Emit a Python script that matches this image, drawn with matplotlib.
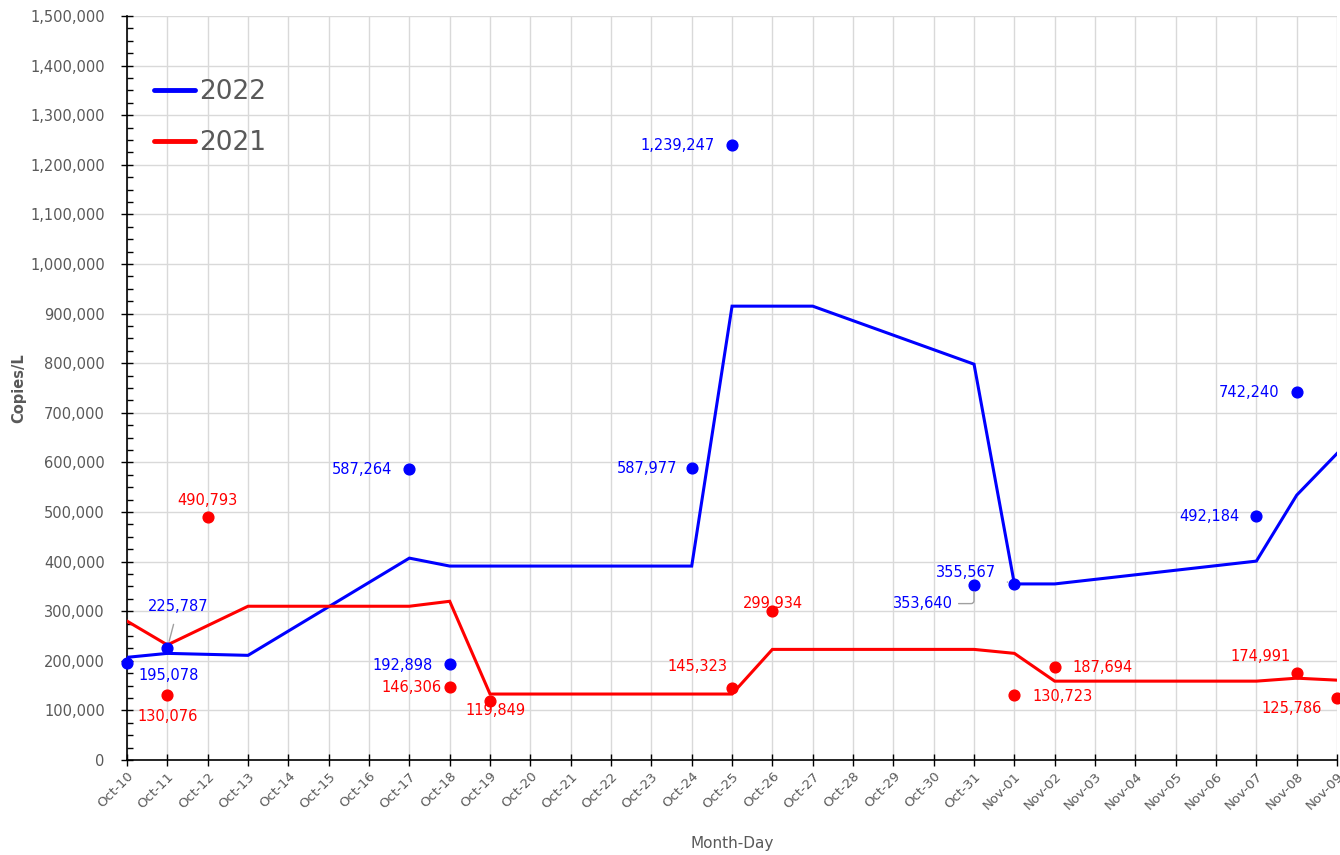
import matplotlib
matplotlib.use("Agg")
import matplotlib.pyplot as plt
from matplotlib.ticker import MultipleLocator, FuncFormatter

# ---------------- data ----------------
days = ["Oct-10", "Oct-11", "Oct-12", "Oct-13", "Oct-14", "Oct-15", "Oct-16", "Oct-17",
        "Oct-18", "Oct-19", "Oct-20", "Oct-21", "Oct-22", "Oct-23", "Oct-24", "Oct-25",
        "Oct-26", "Oct-27", "Oct-28", "Oct-29", "Oct-30", "Oct-31", "Nov-01", "Nov-02",
        "Nov-03", "Nov-04", "Nov-05", "Nov-06", "Nov-07", "Nov-08", "Nov-09"]

# trend lines (vertex days and values)
line22_days = ["Oct-10", "Oct-11", "Oct-13", "Oct-17", "Oct-18", "Oct-24", "Oct-25",
               "Oct-27", "Oct-31", "Nov-01", "Nov-02", "Nov-07", "Nov-08", "Nov-09"]
line22_vals = [207000, 215000, 211000, 407000, 391000, 391000, 915000,
               915000, 798000, 355000, 355000, 401000, 534000, 618000]

line21_days = ["Oct-10", "Oct-11", "Oct-13", "Oct-17", "Oct-18", "Oct-19", "Oct-25",
               "Oct-26", "Oct-31", "Nov-01", "Nov-02", "Nov-07", "Nov-08", "Nov-09"]
line21_vals = [280000, 232000, 310000, 310000, 320000, 133000, 133000,
               223000, 223000, 215000, 159000, 159000, 165000, 161000]

# measured points
pts22_days = ["Oct-10", "Oct-11", "Oct-17", "Oct-18", "Oct-24", "Oct-25", "Oct-31",
              "Nov-01", "Nov-07", "Nov-08"]
pts22_vals = [195078, 225787, 587264, 192898, 587977, 1239247, 353640,
              355567, 492184, 742240]

pts21_days = ["Oct-11", "Oct-12", "Oct-18", "Oct-19", "Oct-25", "Oct-26", "Nov-01",
              "Nov-02", "Nov-08", "Nov-09"]
pts21_vals = [130076, 490793, 146306, 119849, 145323, 299934, 130723,
              187694, 174991, 125786]

series_names = ["2022", "2021"]

# ---------------- styles / label offsets (pixels) ----------------
BLUE = "#0000FF"
RED = "#FF0000"
GRAY = "#595959"
off22 = [(42, -12), (11, 42), (-47, -1), (-47, -1), (-45, 0), (-54, 0), (-51, -19),
         (-48, 11), (-47, -1), (-48, -1)]
lead22 = [None, "line", None, None, None, None, "angle", "line", None, None]
off21 = [(0, -21), (0, 16), (-38, 0), (5, -10), (-35, 21), (1, 8), (48, -1),
         (48, -1), (-36, 17), (-45, -11)]

idx = {d: i for i, d in enumerate(days)}

fig = plt.figure(figsize=(13.4, 8.55), dpi=100)
ax = fig.add_axes([0.0948, 0.1111, 0.9030, 0.8702])

ax.plot([idx[d] for d in line22_days], line22_vals, color=BLUE, lw=2.2, zorder=3,
        label=series_names[0], solid_joinstyle="miter")
ax.plot([idx[d] for d in line21_days], line21_vals, color=RED, lw=2.2, zorder=3,
        label=series_names[1], solid_joinstyle="miter")

ax.scatter([idx[d] for d in pts22_days], pts22_vals, s=60, color=BLUE, zorder=4,
           clip_on=False)
ax.scatter([idx[d] for d in pts21_days], pts21_vals, s=60, color=RED, zorder=4,
           clip_on=False)

for d, v, o, ld in zip(pts22_days, pts22_vals, off22, lead22):
    kw = {}
    if ld == "line":
        kw["arrowprops"] = dict(arrowstyle="-", color="#A0A0A0", lw=1,
                                shrinkA=6, shrinkB=5)
    elif ld == "angle":
        kw["arrowprops"] = dict(arrowstyle="-", color="#A0A0A0", lw=1,
                                shrinkA=2, shrinkB=5,
                                connectionstyle="angle,angleA=0,angleB=90,rad=3")
    ax.annotate(f"{v:,}", (idx[d], v), xytext=o, textcoords="offset pixels",
                ha="center", va="center", color=BLUE, fontsize=10.5, zorder=5,
                annotation_clip=False, **kw)

for d, v, o in zip(pts21_days, pts21_vals, off21):
    ax.annotate(f"{v:,}", (idx[d], v), xytext=o, textcoords="offset pixels",
                ha="center", va="center", color=RED, fontsize=10.5, zorder=5,
                annotation_clip=False)

ax.set_xlim(0, len(days) - 1)
ax.set_ylim(0, 1500000)
ax.set_xticks(range(len(days)))
ax.set_xticklabels(days, rotation=45, ha="right", rotation_mode="anchor",
                   fontsize=9.5, color=GRAY)
ax.yaxis.set_major_locator(MultipleLocator(100000))
ax.yaxis.set_minor_locator(MultipleLocator(25000))
ax.yaxis.set_major_formatter(FuncFormatter(lambda v, p: f"{int(v):,}"))
ax.tick_params(axis="y", which="major", labelsize=10.5, labelcolor=GRAY,
               direction="inout", length=8, width=1, pad=12)
ax.tick_params(axis="y", which="minor", direction="in", length=4, width=1)
ax.tick_params(axis="x", which="major", direction="inout", length=8, width=1,
               pad=3)

ax.grid(True, which="major", color="#D9D9D9", lw=1, zorder=0)
ax.set_axisbelow(True)
for s in ["top", "right"]:
    ax.spines[s].set_visible(False)
for s in ["left", "bottom"]:
    ax.spines[s].set_color("black")
    ax.spines[s].set_linewidth(1.2)

ax.set_ylabel("Copies/L", fontsize=10.5, color=GRAY, fontweight="bold", labelpad=3)
ax.set_xlabel("Month-Day", fontsize=11, color=GRAY, labelpad=17)

leg = ax.legend(loc="upper left", bbox_to_anchor=(0.007, 0.94), frameon=False,
                fontsize=19, handlelength=1.55, handletextpad=0.15, labelspacing=0.95,
                labelcolor=GRAY, borderaxespad=0.3)
for h in leg.get_lines():
    h.set_linewidth(3.5)
    h.set_solid_capstyle("round")

fig.savefig("out.png", dpi=100)
